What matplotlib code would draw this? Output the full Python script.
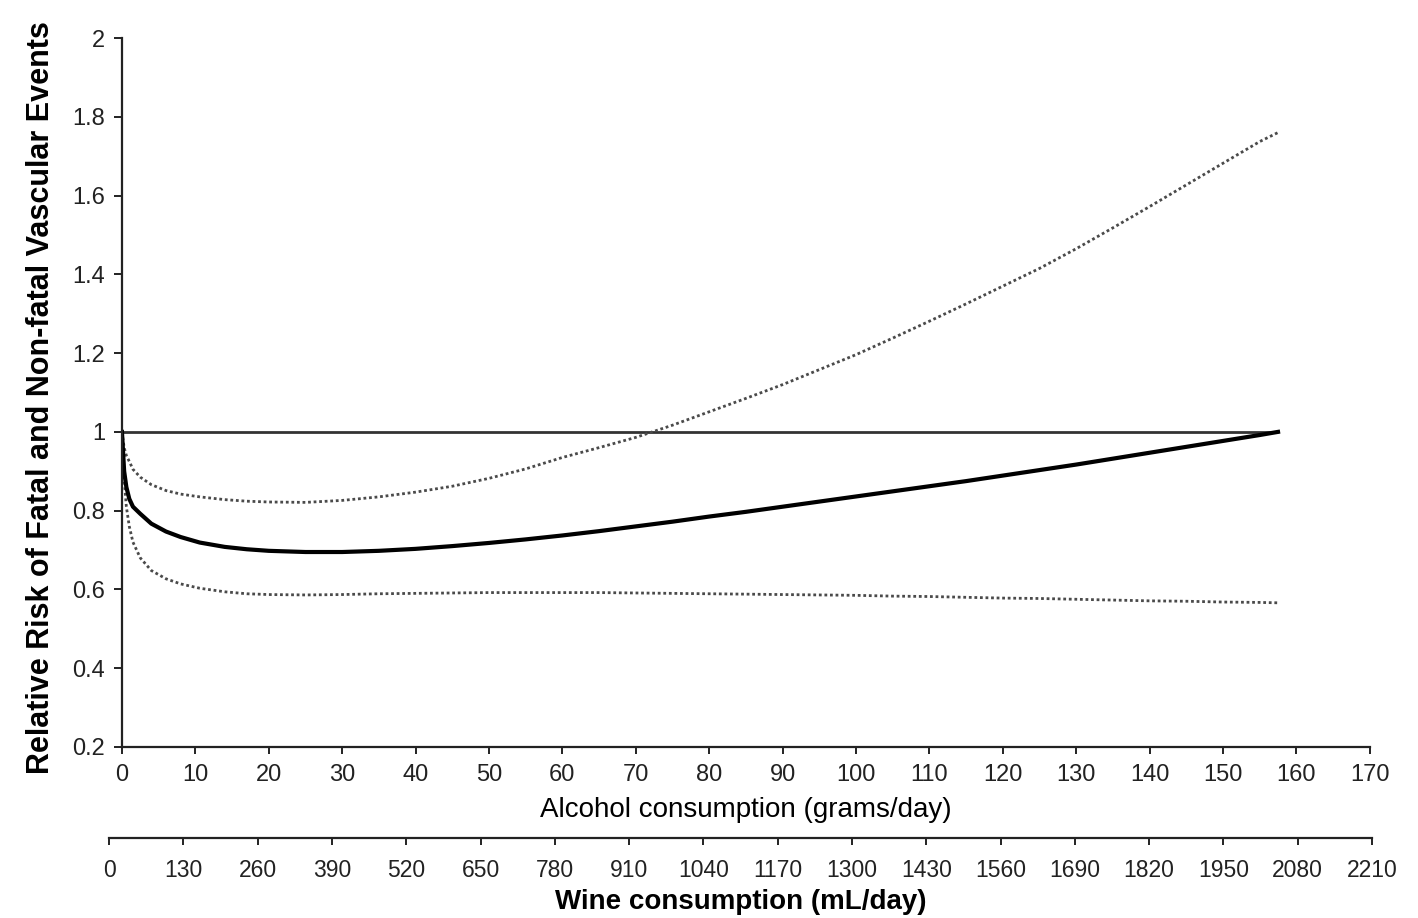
import numpy as np
import matplotlib.pyplot as plt

# --- data ---
alcohol = [0, 0.3, 0.6, 1, 1.5, 2.5, 4, 6, 8, 10.6, 14, 17, 20, 25, 30, 35, 40, 45, 50,
           55, 60, 65, 70, 75, 80, 85, 90, 95, 100, 105, 110, 115, 120, 125, 130,
           135, 140, 145, 150, 155, 157.5]
rr = [1.0, 0.9, 0.86, 0.83, 0.81, 0.792, 0.767, 0.747, 0.733, 0.719, 0.708, 0.702,
      0.698, 0.695, 0.695, 0.698, 0.703, 0.710, 0.718, 0.727, 0.737, 0.748, 0.760,
      0.772, 0.785, 0.797, 0.810, 0.823, 0.836, 0.849, 0.862, 0.875, 0.889, 0.903,
      0.917, 0.932, 0.947, 0.962, 0.977, 0.992, 1.0]
lower = [1.0, 0.88, 0.81, 0.76, 0.72, 0.68, 0.648, 0.627, 0.614, 0.603, 0.594, 0.589,
         0.587, 0.586, 0.587, 0.589, 0.590, 0.591, 0.592, 0.592, 0.592, 0.592, 0.591,
         0.590, 0.589, 0.588, 0.587, 0.586, 0.585, 0.583, 0.582, 0.580, 0.578, 0.577,
         0.575, 0.573, 0.571, 0.570, 0.568, 0.567, 0.566]
upper = [1.0, 0.96, 0.94, 0.925, 0.905, 0.885, 0.866, 0.851, 0.842, 0.835, 0.828, 0.824,
         0.822, 0.821, 0.826, 0.835, 0.847, 0.862, 0.882, 0.906, 0.935, 0.960, 0.986,
         1.017, 1.051, 1.085, 1.120, 1.158, 1.196, 1.238, 1.281, 1.325, 1.370, 1.415,
         1.465, 1.518, 1.572, 1.627, 1.682, 1.737, 1.760]
ref_end = 157.5

x_ticks = list(range(0, 171, 10))
y_ticks = [0.2, 0.4, 0.6, 0.8, 1, 1.2, 1.4, 1.6, 1.8, 2]
y_ticklabels = ["0.2", "0.4", "0.6", "0.8", "1", "1.2", "1.4", "1.6", "1.8", "2"]
wine_ticks = list(range(0, 2211, 130))

plt.rcParams["font.family"] = ["Liberation Sans", "DejaVu Sans"]

fig = plt.figure(figsize=(14.18, 9.18), dpi=100)
ax = fig.add_axes([0.086, 0.1863, 0.880, 0.7723])

ax.plot([0, ref_end], [1, 1], color="#333333", lw=2.0, solid_capstyle="butt")
ax.plot(alcohol, upper, color="#4a4a4a", lw=2.0, linestyle=(0, (1, 1)))
ax.plot(alcohol, lower, color="#4a4a4a", lw=2.0, linestyle=(0, (1, 1)))
ax.plot(alcohol, rr, color="black", lw=3.0)

ax.set_xlim(0, 170)
ax.set_ylim(0.2, 2)
ax.spines["top"].set_visible(False)
ax.spines["right"].set_visible(False)
for s in ["left", "bottom"]:
    ax.spines[s].set_linewidth(1.6)
    ax.spines[s].set_color("#222222")

ax.set_xticks(x_ticks)
ax.set_xticklabels([str(t) for t in x_ticks], fontsize=17)
ax.set_yticks(y_ticks)
ax.set_yticklabels(y_ticklabels, fontsize=17)
ax.tick_params(axis="x", length=5, width=1.4, pad=7, colors="#222222")
ax.tick_params(axis="y", length=6, width=1.4, pad=6, colors="#222222")

ax.set_xlabel("Alcohol consumption (grams/day)", fontsize=20, labelpad=8)
fig.text(0.029, 0.567, "Relative Risk of Fatal and Non-fatal Vascular Events",
         rotation=90, ha="center", va="center", fontsize=22, fontweight="bold")

# --- second axis: wine ---
ax2 = fig.add_axes([0.0769, 0.0871, 0.8907, 0.0001])
ax2.set_xlim(0, 2210)
ax2.set_yticks([])
for s in ["top", "right", "left"]:
    ax2.spines[s].set_visible(False)
ax2.spines["bottom"].set_linewidth(1.6)
ax2.spines["bottom"].set_color("#222222")
ax2.set_xticks(wine_ticks)
ax2.set_xticklabels([str(t) for t in wine_ticks], fontsize=16.5)
ax2.tick_params(axis="x", length=5, width=1.4, pad=10, colors="#222222")
ax2.set_xlabel("Wine consumption (mL/day)", fontsize=20, fontweight="bold", labelpad=5)

fig.savefig("out.png", dpi=100)
